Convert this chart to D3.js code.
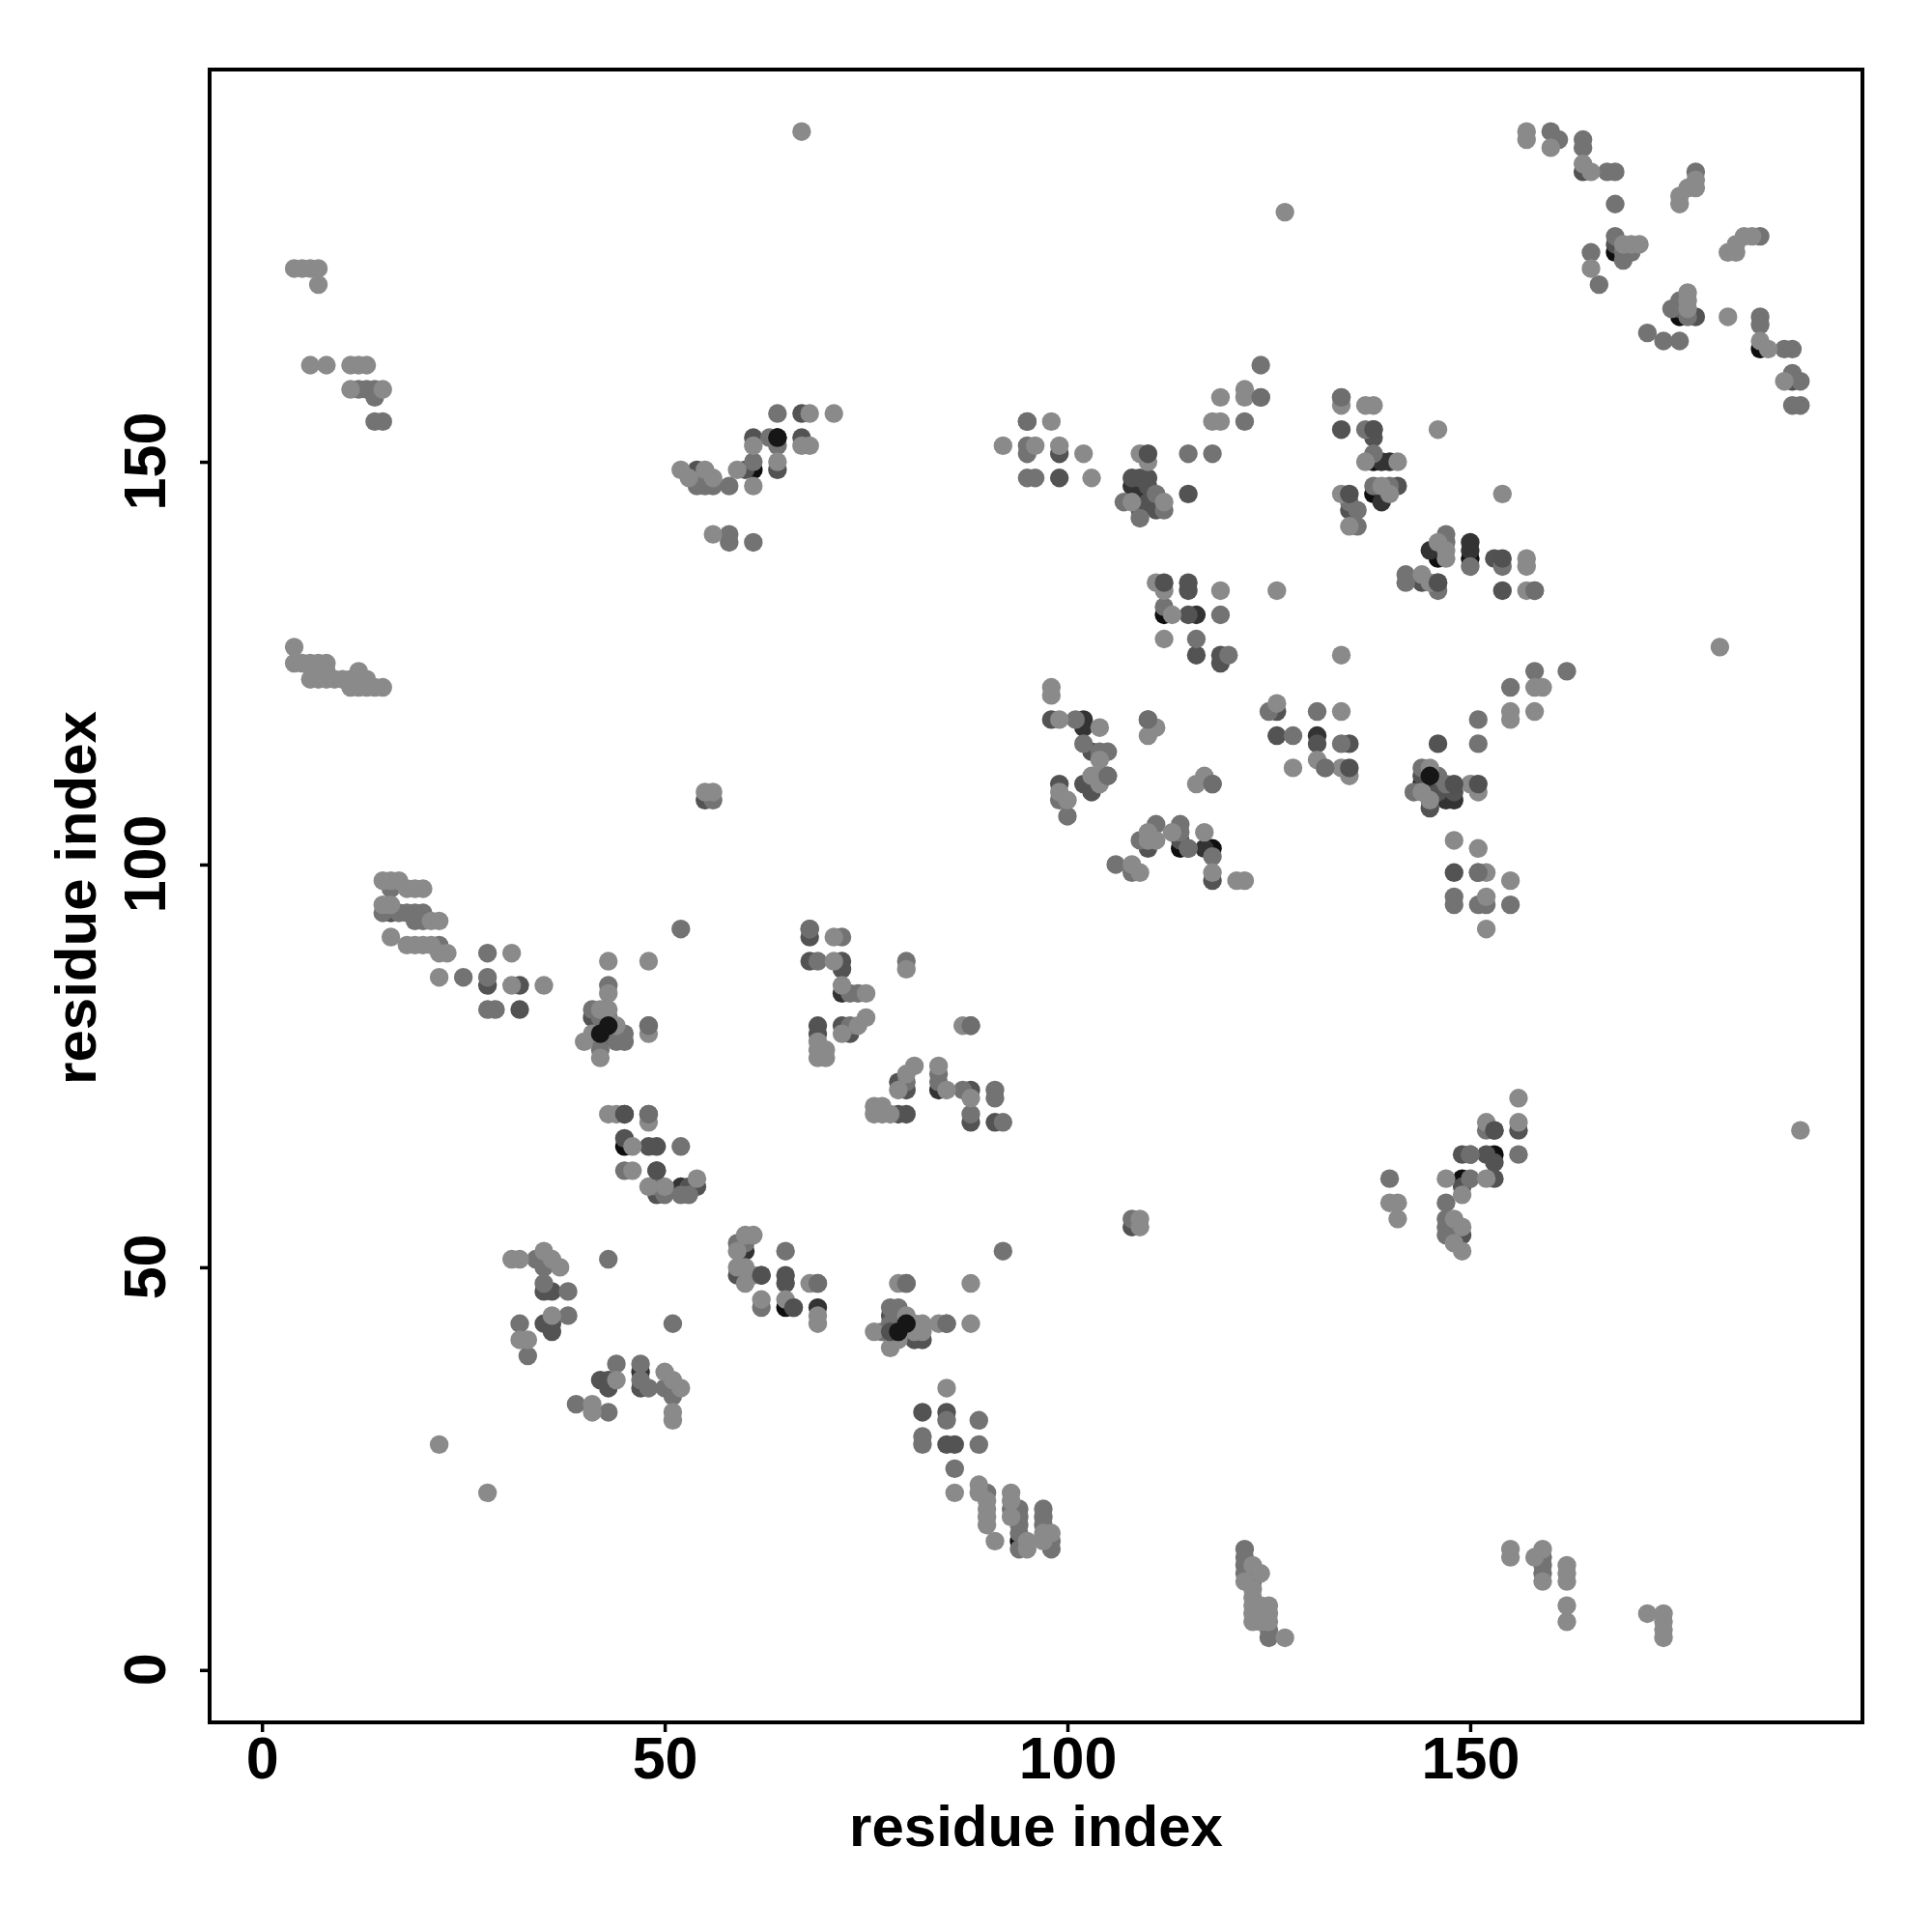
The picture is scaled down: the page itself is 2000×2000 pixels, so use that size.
<!DOCTYPE html>
<html><head><meta charset="utf-8">
<script src="https://cdnjs.cloudflare.com/ajax/libs/d3/7.8.5/d3.min.js"></script>
<style>html,body{margin:0;padding:0;background:#fff}svg{display:block}</style></head>
<body><div id="chart"></div>
<script>
const xTicks=[0,50,100,150];
const yTicks=[0,50,100,150];
const axisTitle="residue index";

const contactsBlack=[[109,145],[112,131],[114,102],[118,102],[138,150],[138,146],[139,146],[146,139],[146,138],[150,138],[145,111],[145,108],[144,110],[168,176],[176,168],[186,164],[64,153],[61,149],[43,80],[42,79],[45,65],[65,45],[80,43],[79,42],[149,61],[153,64],[94,16]];
const contactsDarker=[[116,131],[102,118],[102,117],[117,102],[131,116],[139,150],[140,150],[139,145],[145,139],[150,140],[150,139],[147,108],[148,108],[45,69],[52,60],[47,37],[35,51],[60,52],[51,35],[69,45],[84,72],[72,84],[108,147],[109,146],[110,146],[145,110],[42,80]];
const contactsDark=[[99,148],[99,151],[108,148],[109,148],[110,148],[110,147],[109,144],[110,145],[111,144],[115,146],[115,135],[115,134],[116,126],[119,126],[119,125],[115,131],[98,118],[103,114],[99,110],[102,110],[103,109],[110,102],[114,103],[118,98],[126,119],[126,116],[131,115],[135,115],[146,115],[144,111],[146,109],[148,109],[145,107],[148,99],[138,154],[138,153],[135,144],[141,147],[153,138],[144,135],[146,135],[154,134],[134,154],[164,186],[168,177],[176,169],[178,168],[190,160],[61,153],[60,149],[54,149],[54,148],[64,149],[67,156],[67,153],[55,108],[16,94],[41,81],[42,78],[44,79],[45,66],[48,65],[49,65],[49,62],[49,59],[53,60],[54,60],[35,47],[36,47],[35,43],[36,43],[36,42],[42,36],[43,36],[43,35],[47,35],[59,49],[60,49],[62,49],[65,49],[65,48],[66,45],[78,44],[79,44],[78,42],[80,42],[81,41],[82,41],[82,32],[85,32],[85,28],[86,28],[68,91],[68,88],[72,88],[72,87],[69,80],[69,79],[72,80],[73,79],[79,73],[80,72],[88,72],[88,68],[91,68],[79,69],[80,69],[108,55],[149,60],[149,64],[152,64],[153,63],[153,61],[153,67],[156,67],[148,54],[149,54],[28,85],[32,85],[32,82]];
const contactsMid=[[95,155],[95,152],[95,151],[95,148],[96,148],[122,155],[124,158],[124,162],[115,151],[118,151],[107,145],[109,143],[111,146],[112,144],[112,132],[119,131],[116,128],[120,126],[101,118],[102,115],[104,114],[105,114],[110,118],[99,108],[100,106],[105,111],[118,110],[111,105],[109,103],[114,105],[114,104],[115,102],[118,101],[106,100],[108,99],[125,119],[131,119],[128,116],[134,115],[132,112],[158,124],[162,124],[155,122],[151,115],[151,118],[144,112],[146,111],[147,110],[143,109],[151,99],[148,96],[148,95],[151,95],[152,95],[155,95],[137,154],[138,151],[138,147],[140,147],[135,145],[136,144],[136,142],[147,141],[147,140],[150,137],[154,137],[142,136],[142,135],[146,134],[158,134],[160,191],[161,190],[164,190],[164,189],[167,186],[168,186],[168,182],[168,178],[169,176],[169,175],[170,176],[165,176],[166,172],[178,186],[186,178],[176,170],[175,169],[177,168],[172,166],[174,165],[176,165],[186,168],[186,167],[189,164],[190,164],[190,161],[191,160],[190,157],[191,157],[12,159],[13,159],[14,159],[14,158],[14,155],[15,155],[64,156],[63,153],[64,152],[61,150],[58,147],[55,148],[54,147],[55,147],[56,147],[58,141],[58,140],[61,140],[56,108],[16,97],[15,94],[17,94],[18,94],[19,94],[20,94],[19,93],[20,93],[22,90],[52,92],[25,86],[28,89],[28,86],[28,82],[29,82],[43,85],[41,82],[42,81],[43,81],[43,79],[45,79],[44,78],[45,78],[42,77],[48,80],[48,69],[52,65],[45,62],[49,60],[50,59],[52,59],[53,59],[34,51],[35,50],[35,48],[38,47],[32,43],[38,44],[33,39],[43,51],[51,43],[44,38],[47,38],[47,36],[48,35],[50,35],[51,34],[39,33],[43,32],[59,53],[60,53],[65,52],[69,48],[62,45],[78,45],[79,45],[78,43],[79,43],[77,42],[80,48],[85,43],[92,52],[85,31],[89,31],[82,29],[82,28],[89,28],[86,25],[90,22],[93,20],[94,20],[94,19],[94,18],[94,17],[94,15],[97,20],[97,19],[97,18],[98,16],[98,15],[68,92],[72,91],[69,88],[73,84],[74,84],[80,88],[73,80],[88,80],[84,74],[84,73],[80,73],[87,72],[91,72],[91,71],[88,69],[92,68],[108,56],[140,61],[150,61],[150,64],[152,67],[156,64],[147,58],[147,56],[147,55],[147,54],[148,55],[122,15],[122,14],[122,13],[122,12],[123,12],[123,11],[125,5],[125,4],[159,14],[159,13],[159,12]];
const contactsLight=[[98,155],[92,152],[96,152],[99,152],[102,151],[103,148],[109,151],[110,150],[108,145],[112,145],[111,135],[112,134],[119,134],[126,134],[113,131],[112,128],[134,126],[119,158],[122,158],[122,159],[118,155],[119,155],[98,122],[98,121],[99,118],[104,117],[104,113],[111,117],[110,116],[99,109],[100,108],[103,111],[104,111],[104,110],[117,111],[116,110],[110,104],[111,103],[110,103],[113,104],[117,104],[118,99],[121,98],[122,98],[108,100],[109,99],[126,120],[134,119],[128,112],[131,113],[134,112],[135,111],[158,122],[159,122],[155,119],[155,118],[158,119],[145,112],[144,109],[145,108],[150,110],[151,109],[148,103],[151,102],[152,99],[155,98],[152,96],[152,92],[134,158],[134,157],[137,157],[138,157],[146,154],[137,150],[141,150],[139,147],[140,146],[134,146],[135,142],[154,146],[146,140],[147,139],[147,138],[157,138],[157,137],[144,136],[145,135],[157,134],[157,191],[157,190],[160,189],[164,187],[165,186],[169,177],[170,177],[171,177],[165,174],[178,185],[178,184],[177,184],[176,183],[176,182],[182,176],[183,176],[183,177],[184,178],[185,178],[177,171],[177,170],[177,169],[182,168],[186,165],[187,164],[189,160],[127,181],[181,127],[4,174],[5,174],[6,174],[7,174],[7,172],[6,162],[8,162],[11,162],[12,162],[13,162],[11,159],[15,159],[4,127],[4,125],[5,125],[6,125],[7,125],[8,125],[7,124],[8,124],[12,124],[6,123],[7,123],[8,123],[9,123],[10,123],[11,123],[12,123],[13,123],[11,122],[12,122],[13,122],[14,122],[15,122],[67,191],[68,156],[71,156],[61,152],[67,152],[68,152],[64,150],[59,149],[61,147],[52,149],[53,148],[55,149],[56,148],[56,141],[55,109],[56,109],[15,98],[16,98],[17,98],[18,97],[19,97],[20,97],[15,95],[16,95],[21,93],[22,93],[16,91],[18,90],[19,90],[20,90],[21,90],[22,89],[23,89],[22,86],[31,89],[31,85],[35,85],[43,88],[48,88],[43,84],[42,82],[43,82],[44,80],[41,79],[40,78],[42,76],[48,79],[43,69],[44,69],[48,68],[46,65],[46,62],[48,60],[50,60],[54,61],[31,51],[32,51],[35,52],[36,51],[37,50],[36,44],[32,41],[33,41],[44,36],[50,37],[51,36],[52,35],[51,32],[51,31],[41,33],[41,32],[22,28],[28,22],[60,54],[61,54],[59,52],[59,50],[60,50],[61,49],[60,48],[68,48],[62,46],[65,46],[69,44],[69,43],[79,48],[88,48],[80,44],[81,43],[82,43],[76,42],[81,42],[82,42],[79,41],[78,40],[84,43],[88,43],[85,35],[86,22],[89,23],[89,22],[90,21],[90,20],[90,19],[90,18],[91,16],[93,22],[93,21],[93,19],[95,16],[95,15],[97,17],[98,17],[97,16],[71,91],[71,88],[72,85],[75,84],[80,87],[69,78],[69,77],[69,76],[70,77],[70,76],[72,79],[74,80],[75,81],[87,80],[81,75],[80,74],[79,72],[84,75],[85,72],[88,71],[76,70],[77,70],[76,69],[77,69],[78,69],[109,56],[109,55],[140,58],[141,58],[141,56],[147,61],[149,59],[152,61],[152,68],[156,71],[156,68],[148,56],[148,53],[149,55],[149,52],[191,67],[122,11],[123,13],[124,12],[123,10],[123,9],[123,8],[123,7],[123,6],[124,8],[124,7],[124,6],[125,8],[125,7],[125,6],[127,4],[155,15],[155,14],[158,14],[159,15],[159,11],[162,13],[162,12],[162,11],[162,8],[162,6],[172,7],[174,7],[174,6],[174,5],[174,4]];
const contactsTopMid=[[48,69],[80,48],[88,80],[85,43],[69,48],[158,134],[134,158],[124,158],[95,155],[118,110],[132,112],[115,102],[110,118],[68,92],[105,111],[150,64],[48,80],[151,99]];
const contactsTopDark=[[110,151],[112,135],[135,146],[154,138],[151,110],[148,110],[135,112],[146,135],[45,69],[49,62],[62,49],[66,45],[78,42],[153,67],[138,154]];
const contactsTopBlack=[[43,80],[42,79],[79,42],[80,43],[145,111],[64,153]];

const layers=[
 {pts:contactsBlack,fill:"#0f0f0f"},
 {pts:contactsDarker,fill:"#333333"},
 {pts:contactsDark,fill:"#535353"},
 {pts:contactsMid,fill:"#737373"},
 {pts:contactsLight,fill:"#8a8a8a"},
 {pts:contactsTopMid,fill:"#6e6e6e"},
 {pts:contactsTopDark,fill:"#515151"},
 {pts:contactsTopBlack,fill:"#161616"}
];

const plotLeft=217,plotRight=1928,plotTop=72,plotBottom=1783;
const svg=d3.select("#chart").append("svg").attr("width",2000).attr("height",2000);
const x=d3.scaleLinear().domain([-6.5,198.7]).range([plotLeft,plotRight]);
const y=d3.scaleLinear().domain([-6.5,198.7]).range([plotBottom,plotTop]);
const font="'Liberation Sans',Arial,sans-serif";

layers.forEach(l=>{
  svg.append("g").selectAll("circle").data(l.pts).join("circle")
    .attr("cx",d=>x(d[0])).attr("cy",d=>y(d[1])).attr("r",9.7).attr("fill",l.fill);
});

svg.append("rect").attr("x",plotLeft).attr("y",plotTop).attr("width",plotRight-plotLeft).attr("height",plotBottom-plotTop)
  .attr("fill","none").attr("stroke","#000").attr("stroke-width",4);

const gx=svg.append("g").attr("transform",`translate(0,${plotBottom})`)
  .call(d3.axisBottom(x).tickValues(xTicks).tickSize(10).tickSizeOuter(0).tickPadding(0));
gx.select(".domain").remove();
gx.selectAll("line").attr("stroke","#000").attr("stroke-width",3.5);
gx.selectAll("text").attr("font-family",font).attr("font-weight","bold").attr("font-size",61).attr("fill","#000")
  .attr("dy",null).attr("y",58);

const gy=svg.append("g").attr("transform",`translate(${plotLeft},0)`)
  .call(d3.axisLeft(y).tickValues(yTicks).tickSize(10).tickSizeOuter(0).tickPadding(0));
gy.select(".domain").remove();
gy.selectAll("line").attr("stroke","#000").attr("stroke-width",3.5);
gy.selectAll("text").attr("font-family",font).attr("font-weight","bold").attr("font-size",61).attr("fill","#000")
  .attr("dy",null).attr("x",null).attr("text-anchor","middle")
  .attr("transform","translate(-46,-1) rotate(-90)");

svg.append("text").attr("x",(plotLeft+plotRight)/2).attr("y",1911).attr("text-anchor","middle")
  .attr("font-family",font).attr("font-weight","bold").attr("font-size",60).text(axisTitle);
svg.append("text").attr("transform",`translate(99,${(plotTop+plotBottom)/2+2}) rotate(-90)`).attr("text-anchor","middle")
  .attr("font-family",font).attr("font-weight","bold").attr("font-size",60).text(axisTitle);
</script></body></html>
